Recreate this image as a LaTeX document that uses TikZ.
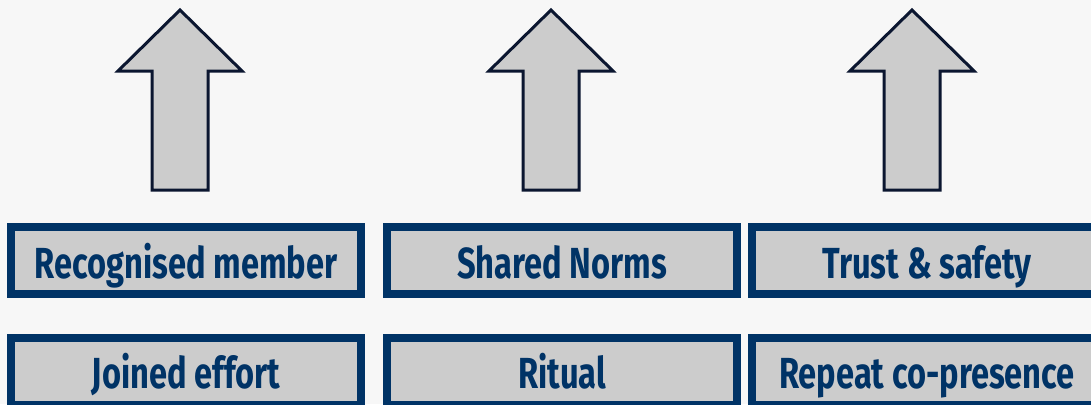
\documentclass[tikz,border=0pt]{standalone}
\usepackage{fontspec}
\newfontfamily\labelfont[FakeStretch=0.75]{Fira Sans}
\definecolor{bgcol}{HTML}{F7F7F7}
\definecolor{boxfill}{HTML}{CCCCCC}
\definecolor{navy}{HTML}{003366}
\definecolor{arrowline}{HTML}{0B1630}
\tikzset{
  stepbox/.style={draw=navy, fill=boxfill, line width=8pt, minimum width=350pt, minimum height=67pt, inner sep=0pt},
  boxtext/.style={anchor=base, inner sep=0pt, text=navy, font=\labelfont\bfseries\fontsize{43.5pt}{48pt}\selectfont},
  uparrow/.style={draw=arrowline, fill=boxfill, line width=3pt, line join=miter}
}
\begin{document}
\begin{tikzpicture}[x=1pt, y=-1pt]
\useasboundingbox (0,0) rectangle (1091,404);
\fill[bgcol] (0,0) rectangle (1091,404);
\clip (0,0) rectangle (1091,404);
% block arrows
\foreach \cx/\nm in {180/a, 551/b, 912/c}{
  \draw[uparrow] (\cx,10) -- (\cx+62,71) -- (\cx+28,71) -- (\cx+28,190) -- (\cx-28,190) -- (\cx-28,71) -- (\cx-62,71) -- cycle;
}
% boxes row 1
\node[stepbox] (b1) at (186,260.5) {};
\node[stepbox] (b2) at (562,260.5) {};
\node[stepbox] (b3) at (927,260.5) {};
% boxes row 2
\node[stepbox] (b4) at (186,371.5) {};
\node[stepbox] (b5) at (562,371.5) {};
\node[stepbox] (b6) at (927,371.5) {};
% labels
\node[boxtext] (t1) at (186,278) {Recognised member};
\node[boxtext] (t2) at (562,278) {Shared Norms};
\node[boxtext] (t3) at (927,278) {Trust \& safety};
\node[boxtext] (t4) at (186,388) {Joined effort};
\node[boxtext] (t5) at (562,388) {Ritual};
\node[boxtext] (t6) at (927,388) {Repeat co-presence};
\end{tikzpicture}
\end{document}
